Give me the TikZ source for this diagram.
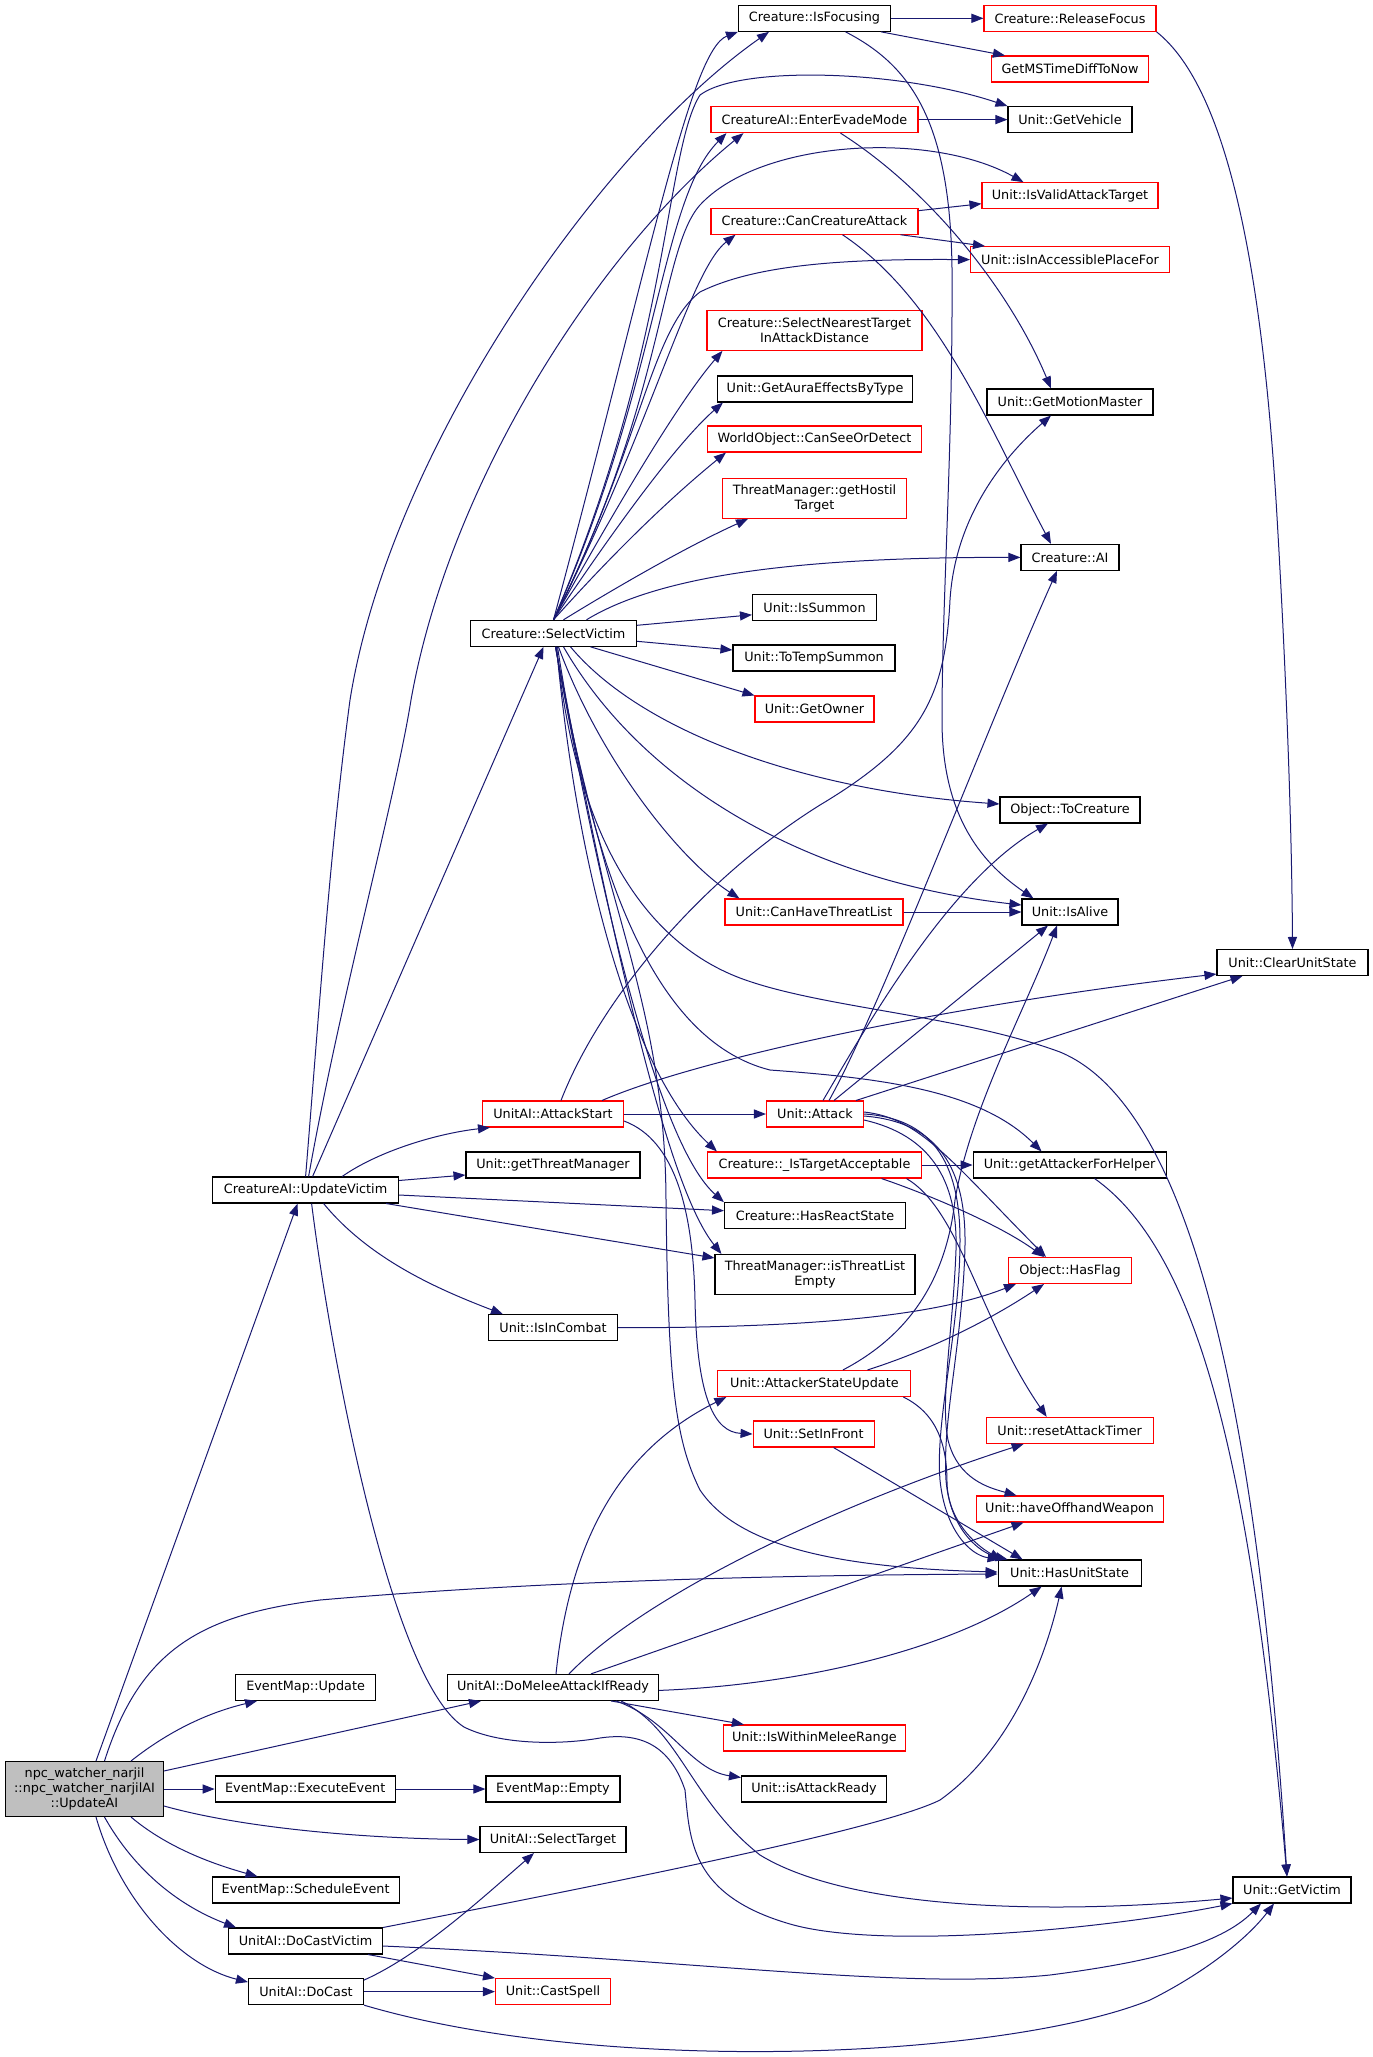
\documentclass[tikz,border=0pt]{standalone}
\usepackage{fontspec}
\setmainfont{DejaVu Sans}
\usetikzlibrary{arrows.meta,calc}
\definecolor{edgeblue}{HTML}{191970}
\definecolor{boxred}{HTML}{FF0000}
\definecolor{npcgray}{HTML}{BFBFBF}
\begin{document}
\begin{tikzpicture}[x=0.75pt,y=-0.75pt,
  bx/.style={draw=black,fill=white,line width=0.8pt,inner sep=0pt,minimum height=19.5pt,align=center,font=\fontsize{9.6pt}{11pt}\selectfont},
  rbx/.style={bx,draw=boxred},
  bw/.style={minimum width=#1*0.75pt},
  tall/.style={minimum height=30pt},
  arr/.style={draw=edgeblue,line width=0.75pt,-{Triangle[length=9pt,width=6.8pt]}}
]
\useasboundingbox (0,0) rectangle (1373,2057);
% nodes
\node[bx,bw=152] (isfoc) at (814.5,18.3) {Creature::IsFocusing};
\node[rbx,bw=172] (relfoc) at (1070,18.3) {Creature::ReleaseFocus};
\node[rbx,bw=157] (msdiff) at (1070,69) {GetMSTimeDiffToNow};
\node[bx,bw=124] (vehicle) at (1070,119.6) {Unit::GetVehicle};
\node[rbx,bw=207] (evade) at (814.5,119.6) {CreatureAI::EnterEvadeMode};
\node[rbx,bw=176] (validat) at (1070,195.7) {Unit::IsValidAttackTarget};
\node[rbx,bw=207] (cancrea) at (814.5,221.2) {Creature::CanCreatureAttack};
\node[rbx,bw=199] (access) at (1070,259.6) {Unit::isInAccessiblePlaceFor};
\node[rbx,bw=215,tall] (nearest) at (814.5,330.3) {Creature::SelectNearestTarget\\InAttackDistance};
\node[bx,bw=195] (aura) at (815,389) {Unit::GetAuraEffectsByType};
\node[rbx,bw=214] (seeor) at (814.5,439) {WorldObject::CanSeeOrDetect};
\node[rbx,bw=184,tall] (hostil) at (814.5,498.4) {ThreatManager::getHostil\\Target};
\node[bx,bw=166] (motion) at (1070,402) {Unit::GetMotionMaster};
\node[bx,bw=98] (cai) at (1070,557.4) {Creature::AI};
\node[bx,bw=124] (summon) at (814.5,607.8) {Unit::IsSummon};
\node[bx,bw=166] (selvic) at (553.5,633.3) {Creature::SelectVictim};
\node[bx,bw=162] (tempsum) at (814,658) {Unit::ToTempSummon};
\node[rbx,bw=119] (owner) at (814.5,709) {Unit::GetOwner};
\node[bx,bw=140] (tocrea) at (1070,810) {Object::ToCreature};
\node[rbx,bw=178] (canthreat) at (814,912) {Unit::CanHaveThreatList};
\node[bx,bw=96] (alive) at (1070,912) {Unit::IsAlive};
\node[bx,bw=151] (clear) at (1292.5,962.5) {Unit::ClearUnitState};
\node[rbx,bw=141] (attstart) at (553,1114) {UnitAI::AttackStart};
\node[rbx,bw=97] (attack) at (815,1114) {Unit::Attack};
\node[bx,bw=174] (getthreat) at (553,1165) {Unit::getThreatManager};
\node[bx,bw=186] (updvic) at (305.6,1190) {CreatureAI::UpdateVictim};
\node[rbx,bw=214] (istarget) at (814.5,1165) {Creature::\_IsTargetAcceptable};
\node[bx,bw=193] (helper) at (1069.6,1165) {Unit::getAttackerForHelper};
\node[bx,bw=181] (react) at (815,1215.7) {Creature::HasReactState};
\node[bx,bw=200,tall] (tlempty) at (815,1274.5) {ThreatManager::isThreatList\\Empty};
\node[rbx,bw=123] (hasflag) at (1070,1270.5) {Object::HasFlag};
\node[bx,bw=129] (incombat) at (553,1327.7) {Unit::IsInCombat};
\node[rbx,bw=193] (stateupd) at (814.4,1383.5) {Unit::AttackerStateUpdate};
\node[rbx,bw=121] (infront) at (813.6,1434) {Unit::SetInFront};
\node[rbx,bw=167] (reset) at (1069.7,1430.4) {Unit::resetAttackTimer};
\node[rbx,bw=187] (offhand) at (1069.6,1509) {Unit::haveOffhandWeapon};
\node[bx,bw=143] (hasunit) at (1069.6,1573) {Unit::HasUnitState};
\node[bx,bw=140] (emupdate) at (305.6,1687.4) {EventMap::Update};
\node[bx,bw=211] (melee) at (553,1687.4) {UnitAI::DoMeleeAttackIfReady};
\node[bx,bw=158,fill=npcgray,minimum height=41.25pt] (npc) at (84.5,1789) {npc\_watcher\_narjil\\::npc\_watcher\_narjilAI\\::UpdateAI};
\node[bx,bw=180] (execev) at (305.2,1789) {EventMap::ExecuteEvent};
\node[bx,bw=134] (emempty) at (553,1789) {EventMap::Empty};
\node[rbx,bw=182] (melrange) at (814.4,1738) {Unit::IsWithinMeleeRange};
\node[bx,bw=145] (attready) at (814,1789) {Unit::isAttackReady};
\node[bx,bw=146] (seltarget) at (553,1839.5) {UnitAI::SelectTarget};
\node[bx,bw=187] (schedule) at (305.6,1890) {EventMap::ScheduleEvent};
\node[bx,bw=118] (victim) at (1292,1890) {Unit::GetVictim};
\node[bx,bw=154] (castvictim) at (305.6,1941) {UnitAI::DoCastVictim};
\node[bx,bw=115] (docast) at (306,1991.6) {UnitAI::DoCast};
\node[rbx,bw=115] (castspell) at (553,1991.6) {Unit::CastSpell};
% isfocusing, evade, cancrea
\draw[arr] (isfoc.east) -- (relfoc.west);
\draw[arr] ($(isfoc.south east)+(-10,0)$) -- ($(msdiff.north west)+(14,0)$);
\draw[arr] ($(isfoc.south)+(31,0)$) .. controls (910,65) and (950,120) .. (952,268) .. controls (953,450) and (942,600) .. (942,720) .. controls (942,820) and (985,865) .. ($(alive.north west)+(12,0)$);
\draw[arr] (relfoc.south east) .. controls (1230,90) and (1262,280) .. (1276,500) .. controls (1288,700) and (1292,850) .. (clear.north);
\draw[arr] (evade.east) -- (vehicle.west);
\draw[arr] ($(evade.south)+(26,0)$) .. controls (930,190) and (1010,290) .. ($(motion.north)+(-19,0)$);
\draw[arr] ($(cancrea.north east)+(0,3)$) -- ($(validat.west)+(0,8)$);
\draw[arr] ($(cancrea.south east)+(-18,0)$) -- ($(access.north west)+(15,0)$);
\draw[arr] ($(cancrea.south)+(28,0)$) .. controls (940,300) and (990,430) .. ($(cai.north)+(-19,0)$);
\draw[arr] (canthreat.east) -- (alive.west);
% SelectVictim
\draw[arr] (selvic.north) .. controls (650,260) and (690,50) .. (isfoc.south west);
\draw[arr] (selvic.north) .. controls (670,350) and (665,150) .. (700,95) .. controls (740,65) and (900,70) .. (vehicle.north west);
\draw[arr] (selvic.north) .. controls (660,380) and (660,200) .. ($(evade.south west)+(16,0)$);
\draw[arr] (selvic.north) .. controls (665,400) and (660,250) .. (700,205) .. controls (760,140) and (930,130) .. ($(validat.north west)+(42,0)$);
\draw[arr] (selvic.north) .. controls (650,430) and (690,270) .. ($(cancrea.south west)+(25,0)$);
\draw[arr] (selvic.north) .. controls (640,450) and (650,330) .. (700,292) .. controls (760,262) and (860,259) .. (access.west);
\draw[arr] (selvic.north) .. controls (620,500) and (680,400) .. ($(nearest.south west)+(16,0)$);
\draw[arr] (selvic.north) .. controls (620,520) and (680,440) .. ($(aura.south west)+(6,0)$);
\draw[arr] (selvic.north) .. controls (625,540) and (680,490) .. ($(seeor.south west)+(19,0)$);
\draw[arr] ($(selvic.north)+(10,0)$) .. controls (620,585) and (690,545) .. ($(hostil.south west)+(26,0)$);
\draw[arr] ($(selvic.north)+(33,0)$) .. controls (660,575) and (800,557) .. (cai.west);
\draw[arr] ($(selvic.east)+(0,-8)$) -- ($(summon.west)+(0,7)$);
\draw[arr] ($(selvic.east)+(0,8)$) -- ($(tempsum.west)+(0,-8)$);
\draw[arr] ($(selvic.south)+(37,0)$) -- (owner.north west);
\draw[arr] ($(selvic.south)+(17,0)$) .. controls (640,730) and (800,790) .. ($(tocrea.west)+(0,-6)$);
\draw[arr] ($(selvic.south)+(10,0)$) .. controls (640,780) and (800,880) .. ($(alive.west)+(0,-7)$);
\draw[arr] ($(selvic.south)+(5,0)$) .. controls (600,760) and (680,860) .. ($(canthreat.north west)+(15,0)$);
\draw[arr] ($(selvic.south)+(3,0)$) .. controls (575,830) and (640,940) .. (740,978) .. controls (820,1008) and (960,1015) .. (1060,1052) .. controls (1200,1110) and (1260,1450) .. ($(victim.north)+(-5,0)$);
\draw[arr] ($(selvic.south)+(4,0)$) .. controls (590,860) and (650,1040) .. (770,1070) .. controls (880,1078) and (980,1090) .. ($(helper.north west)+(69,0)$);
\draw[arr] ($(selvic.south)+(3,0)$) .. controls (580,900) and (640,1080) .. ($(istarget.north west)+(10,0)$);
\draw[arr] ($(selvic.south)+(2,0)$) .. controls (610,950) and (665,1150) .. (react.north west);
\draw[arr] ($(selvic.south)+(2,0)$) .. controls (620,980) and (670,1190) .. ($(tlempty.north west)+(7,0)$);
\draw[arr] ($(selvic.south)+(2,0)$) .. controls (600,900) and (665,1000) .. (666,1200) .. controls (668,1380) and (675,1440) .. (700,1490) .. controls (740,1550) and (850,1568) .. ($(hasunit.west)+(0,-1)$);
% UpdateVictim
\draw[arr] (updvic.north) .. controls (320,1000) and (330,850) .. (350,700) .. controls (390,450) and (600,150) .. ($(isfoc.south west)+(31,0)$);
\draw[arr] ($(updvic.north)+(3,0)$) .. controls (340,1000) and (395,800) .. (411,700) .. controls (450,480) and (600,250) .. ($(evade.south west)+(33,0)$);
\draw[arr] ($(updvic.north)+(7,0)$) -- ($(selvic.south)+(-10,0)$);
\draw[arr] ($(updvic.north east)+(-57,0)$) .. controls (380,1150) and (440,1133) .. ($(attstart.south west)+(8,0)$);
\draw[arr] ($(updvic.north east)+(0,4)$) -- ($(getthreat.west)+(0,10)$);
\draw[arr] ($(updvic.east)+(0,5)$) -- ($(react.west)+(0,-5)$);
\draw[arr] ($(updvic.south east)+(-13,0)$) -- ($(tlempty.north west)+(0,4)$);
\draw[arr] ($(updvic.south)+(18,0)$) .. controls (370,1260) and (440,1290) .. ($(incombat.north west)+(15,0)$);
\draw[arr] ($(updvic.south)+(6,0)$) .. controls (330,1350) and (390,1680) .. (464,1727) .. controls (500,1745) and (560,1745) .. (600,1738) .. controls (640,1732) and (670,1745) .. (685,1790) .. controls (690,1840) and (690,1895) .. (790,1924) .. controls (880,1950) and (1100,1930) .. (victim.south west);
% npc
\draw[arr] ($(npc.north)+(11.5,0)$) -- ($(updvic.south)+(-8,0)$);
\draw[arr] ($(npc.north)+(20,0)$) .. controls (140,1650) and (200,1615) .. (320,1600) .. controls (550,1580) and (800,1575) .. ($(hasunit.west)+(0,1)$);
\draw[arr] ($(npc.north east)+(-33,0)$) .. controls (170,1730) and (210,1712) .. ($(emupdate.south west)+(22,0)$);
\draw[arr] ($(npc.north east)+(0,10)$) -- ($(melee.south west)+(34,0)$);
\draw[arr] (npc.east) -- (execev.west);
\draw[arr] (execev.east) -- (emempty.west);
\draw[arr] ($(npc.east)+(0,17)$) .. controls (250,1830) and (380,1839) .. (seltarget.west);
\draw[arr] ($(npc.south east)+(-33,0)$) .. controls (170,1850) and (220,1866) .. ($(schedule.north west)+(46,0)$);
\draw[arr] ($(npc.south)+(20,0)$) .. controls (140,1880) and (190,1910) .. ($(castvictim.north west)+(8,0)$);
\draw[arr] ($(npc.south)+(11.5,0)$) .. controls (120,1900) and (180,1965) .. ($(docast.north west)+(0,4)$);
% DoMeleeAttackIfReady
\draw[arr] ($(melee.north)+(3,0)$) .. controls (570,1540) and (620,1450) .. ($(stateupd.south west)+(9,0)$);
\draw[arr] ($(melee.north)+(16,0)$) .. controls (640,1600) and (820,1510) .. ($(reset.south west)+(38,0)$);
\draw[arr] ($(melee.north)+(38,0)$) -- ($(offhand.south west)+(48,0)$);
\draw[arr] ($(melee.east)+(0,3)$) .. controls (800,1685) and (950,1650) .. ($(hasunit.south west)+(44,0)$);
\draw[arr] ($(melee.south)+(58,0)$) -- ($(melrange.north west)+(21,0)$);
\draw[arr] ($(melee.south)+(63,0)$) .. controls (670,1720) and (690,1770) .. ($(attready.north west)+(0,2)$);
\draw[arr] ($(melee.south)+(68,0)$) .. controls (680,1730) and (690,1800) .. (760,1855) .. controls (850,1910) and (1050,1915) .. ($(victim.west)+(0,8)$);
% DoCastVictim, DoCast
\draw[arr] (castvictim.north east) .. controls (600,1885) and (880,1830) .. (940,1800) .. controls (1010,1750) and (1045,1660) .. ($(hasunit.south)+(-8,0)$);
\draw[arr] ($(castvictim.south east)+(-15,0)$) -- (castspell.north west);
\draw[arr] ($(castvictim.east)+(0,5)$) .. controls (700,1960) and (900,1990) .. (1050,1975) .. controls (1150,1962) and (1220,1945) .. ($(victim.south)+(-31,0)$);
\draw[arr] ($(docast.north east)+(0,2)$) .. controls (420,1955) and (480,1900) .. ($(seltarget.south)+(-19,0)$);
\draw[arr] (docast.east) -- (castspell.west);
\draw[arr] (docast.south east) .. controls (600,2075) and (1000,2060) .. (1150,2000) .. controls (1210,1970) and (1250,1935) .. ($(victim.south)+(-18,0)$);
% AttackStart
\draw[arr] (attstart.east) -- (attack.west);
\draw[arr] ($(attstart.north)+(49,0)$) .. controls (700,1058) and (950,1005) .. ($(clear.south west)+(0,-2)$);
\draw[arr] ($(attstart.north)+(8,0)$) .. controls (600,1000) and (700,880) .. (820,805) .. controls (920,745) and (945,700) .. (950,600) .. controls (955,520) and (1000,460) .. ($(motion.south)+(-19,0)$);
\draw[arr] ($(attstart.east)+(0,7)$) .. controls (675,1140) and (693,1210) .. (695,1300) .. controls (697,1400) and (715,1432) .. (infront.west);
% Attack
\draw[arr] ($(attack.north)+(14,0)$) .. controls (880,1010) and (990,720) .. ($(cai.south)+(-13,0)$);
\draw[arr] ($(attack.north)+(8,0)$) .. controls (870,1020) and (950,880) .. ($(tocrea.south)+(-22,0)$);
\draw[arr] ($(attack.north)+(19,0)$) -- ($(alive.south)+(-22,0)$);
\draw[arr] ($(attack.north east)+(-8,0)$) -- ($(clear.south west)+(26,0)$);
\draw[arr] ($(attack.east)+(0,-2)$) .. controls (920,1118) and (950,1160) .. ($(hasflag.north)+(-24,0)$);
\draw[arr] (attack.east) .. controls (930,1118) and (960,1160) .. (960,1240) .. controls (960,1330) and (935,1420) .. (940,1480) .. controls (945,1530) and (970,1555) .. ($(hasunit.north west)+(2,0)$);
\draw[arr] ($(attack.east)+(0,2)$) .. controls (940,1122) and (966,1170) .. (965,1245) .. controls (963,1340) and (942,1420) .. (946,1480) .. controls (950,1530) and (980,1553) .. ($(hasunit.north west)+(10,0)$);
\draw[arr] ($(attack.east)+(0,6)$) .. controls (930,1135) and (958,1180) .. (956,1250) .. controls (953,1330) and (940,1400) .. (948,1440) .. controls (958,1480) and (990,1488) .. ($(offhand.north west)+(41,0)$);
% _IsTargetAcceptable, helper, IsInCombat
\draw[arr] (istarget.east) -- (helper.west);
\draw[arr] ($(istarget.south)+(67,0)$) .. controls (930,1195) and (1000,1225) .. ($(hasflag.north)+(-26,0)$);
\draw[arr] ($(istarget.south)+(92,0)$) .. controls (960,1210) and (980,1320) .. ($(reset.north)+(-23,0)$);
\draw[arr] ($(helper.south)+(25,0)$) .. controls (1195,1250) and (1250,1450) .. ($(victim.north)+(-5,0)$);
\draw[arr] (incombat.east) .. controls (850,1328) and (950,1310) .. ($(hasflag.south west)+(8,0)$);
% AttackerStateUpdate, SetInFront
\draw[arr] ($(stateupd.north)+(28.5,0)$) .. controls (900,1340) and (945,1290) .. (955,1200) .. controls (970,1110) and (1025,1010) .. ($(alive.south)+(-13,0)$);
\draw[arr] ($(stateupd.north east)+(-44,0)$) .. controls (930,1350) and (990,1320) .. ($(hasflag.south)+(-26,0)$);
\draw[arr] ($(stateupd.south east)+(-8,0)$) .. controls (940,1415) and (947,1450) .. (947,1483) .. controls (948,1520) and (975,1545) .. ($(hasunit.north west)+(4,0)$);
\draw[arr] ($(infront.south)+(20,0)$) -- ($(hasunit.north west)+(25,0)$);
\end{tikzpicture}
\end{document}
